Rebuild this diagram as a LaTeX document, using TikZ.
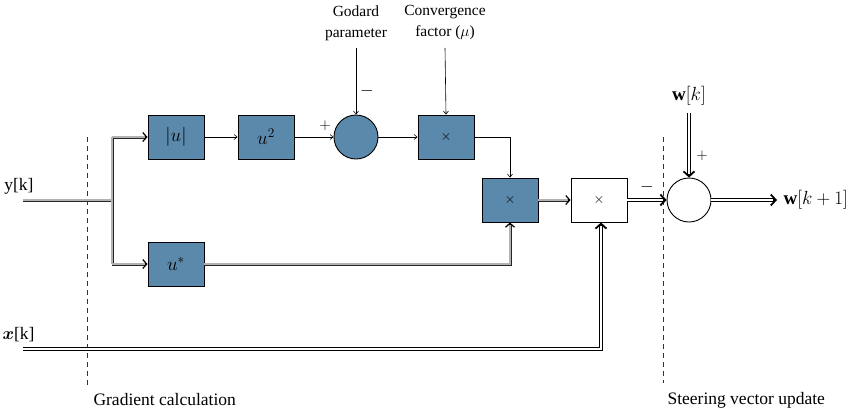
\RequirePackage{fix-cm}
\documentclass[tikz,border=0pt]{standalone}
\usepackage{amsmath}
\usepackage{fontspec}
\setmainfont{Liberation Serif}
\usetikzlibrary{arrows.meta,calc}
\definecolor{blockblue}{RGB}{91,137,171}
\begin{document}
\begin{tikzpicture}[x=1pt,y=-1pt,
  every node/.style={font=\fontsize{17.5}{20}\selectfont},
  blk/.style={draw=black, line width=0.9pt, fill=blockblue, minimum width=56pt, minimum height=44pt, inner sep=0pt},
  wblk/.style={blk, fill=white},
  sumnode/.style={draw=black, line width=0.9pt, circle, minimum size=44pt, inner sep=0pt},
  thin arrow/.style={line width=0.6pt, -{Straight Barb[length=3pt,width=5pt]}},
  gdouble/.style={draw=black!85, double=black!30, line width=0.8pt, double distance=1.4pt},
  bdouble/.style={draw=black, double=white, line width=0.9pt, double distance=1.4pt},
  gtip/.style={draw=black, line width=1.2pt, -{Straight Barb[length=4pt,width=9pt]}},
  btip/.style={draw=black, line width=1.8pt, -{Straight Barb[length=5pt,width=11pt]}},
  sep/.style={draw=black!80, line width=0.6pt, dash pattern=on 5pt off 4pt},
  mathbig/.style={font=\fontsize{19}{21}\selectfont}
]
\useasboundingbox (0,0) rectangle (849,413);

% processing blocks
\node[blk, mathbig] (absu) at (176,137) {$|u|$};
\node[blk, mathbig] (usq) at (266,137) {$u^2$};
\node[sumnode, fill=blockblue] (sum1) at (356,137) {};
\node[blk] (conv) at (446,137) {\fontsize{14}{15}\selectfont$\times$};
\node[blk, mathbig] (ustar) at (176,264) {$u^*$};
\node[blk] (mid) at (510,200) {\fontsize{14}{15}\selectfont$\times$};
\node[wblk] (prod) at (599,200) {\fontsize{14}{15}\selectfont$\times$};
\node[sumnode] (sum2) at (689,200) {};

% inputs and labels
\node[anchor=east] (ylab) at (37,186) {y[k]};
\node[anchor=east] (xlab) at (38,335) {$\boldsymbol{x}$[k]};
\coordinate (ystart) at (23,200);
\coordinate (split) at (112,200);
\coordinate (xstart) at (23,349);
\node[align=center, font=\fontsize{15.5}{21}\selectfont] (godard) at (356,23) {Godard\\parameter};
\node[align=center, font=\fontsize{15.5}{21}\selectfont] (mu) at (445,23) {Convergence\\factor ($\mu$)};
\node[mathbig] (wk) at (689,96) {$\mathbf{w}[k]$};
\coordinate (wout) at (777,200);
\node[anchor=west, mathbig] (wk1) at (780,200) {$\mathbf{w}[k+1]$};
\node[anchor=west] (grad) at (90,400) {Gradient calculation};
\node[anchor=west] (steer) at (664,400) {Steering vector update};

% signs at the summing junctions
\node (m1) at (367,91) {$-$};
\node (p1) at (325,126) {\fontsize{15}{16}\selectfont$+$};
\node (m2) at (647,187) {$-$};
\node (p2) at (702,156) {\fontsize{15}{16}\selectfont$+$};

% section separators
\draw[sep] (87,137) -- (87,386);
\draw[sep] (663,137) -- (663,383);

% single-line signal paths
\draw[thin arrow] (absu) -- (usq);
\draw[thin arrow] (usq) -- (sum1);
\draw[thin arrow] (sum1) -- (conv);
\draw[thin arrow] (godard.south) ++(0,4) -- (sum1.north);
\draw[thin arrow] (mu.south) ++(0,4) -- (conv.north);
\draw[thin arrow] (conv.east) -| (mid.north);

% grey double paths
\draw[gdouble] (ystart) -- (split) (split |- absu.west) -- (split |- ustar.west)
  (split |- absu.west) -- ($(absu.west)+(-2,0)$)
  (split |- ustar.west) -- ($(ustar.west)+(-2,0)$);
\draw[gdouble] (ustar.east) -| ($(mid.south)+(0,2)$);
\draw[gdouble] (mid.east) -- ($(prod.west)+(-2,0)$);
\draw[gtip] ($(absu.west)+(-3,0)$) -- (absu.west);
\draw[gtip] ($(ustar.west)+(-3,0)$) -- (ustar.west);
\draw[gtip] ($(mid.south)+(0,3)$) -- (mid.south);
\draw[gtip] ($(prod.west)+(-3,0)$) -- (prod.west);

% black double paths
\draw[bdouble] (xstart) -| ($(prod.south)+(2,3)$);
\draw[bdouble] (prod.east) -- ($(sum2.west)+(-3,0)$);
\draw[bdouble] ($(wk.south)+(0,4)$) -- ($(sum2.north)+(0,-3)$);
\draw[bdouble] (sum2.east) -- ($(wout)+(-3,0)$);
\draw[btip] ($(prod.south)+(2,4)$) -- ($(prod.south)+(2,0)$);
\draw[btip] ($(sum2.west)+(-4,0)$) -- (sum2.west);
\draw[btip] ($(sum2.north)+(0,-4)$) -- (sum2.north);
\draw[btip] ($(wout)+(-4,0)$) -- (wout);
\end{tikzpicture}
\end{document}
